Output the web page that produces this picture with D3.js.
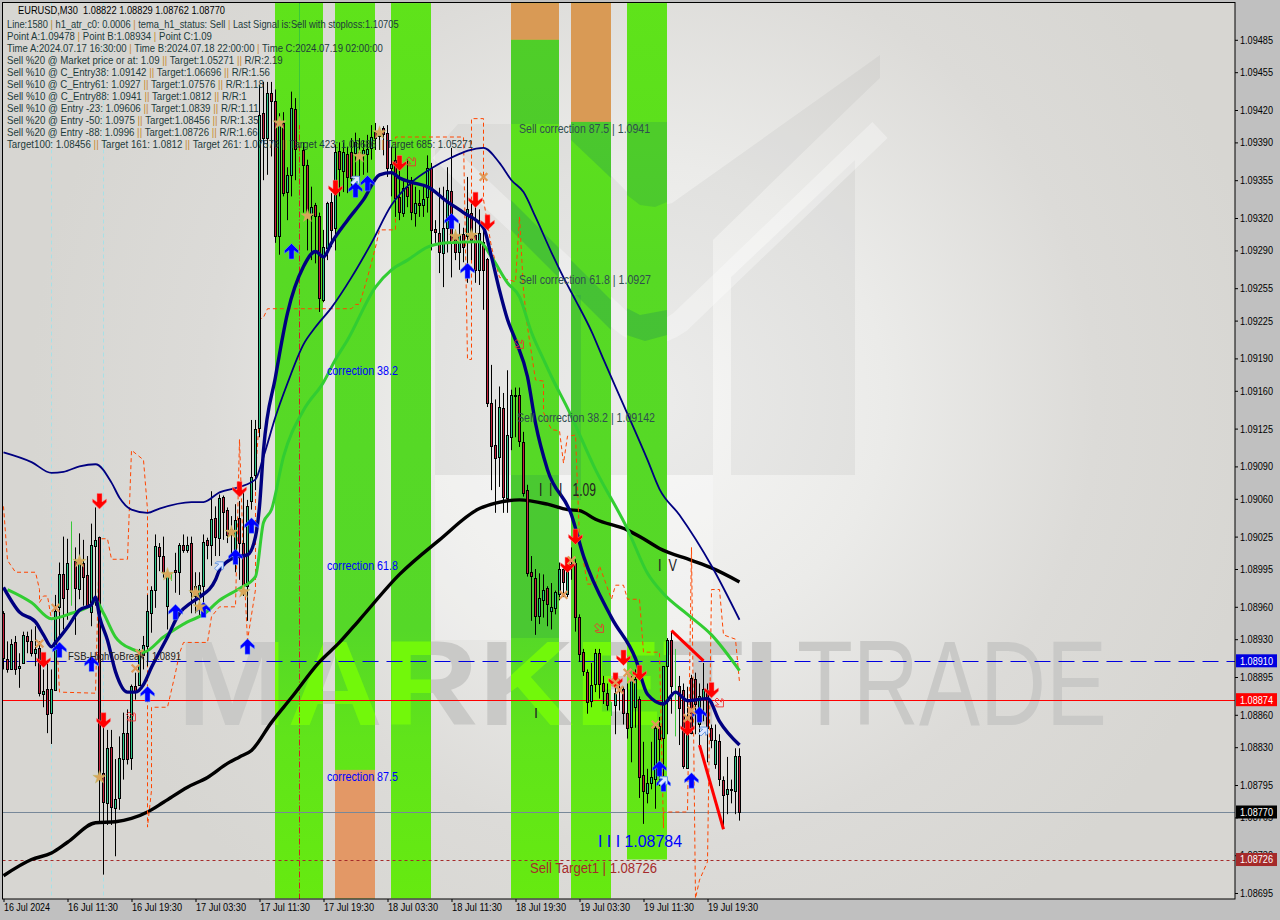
<!DOCTYPE html>
<html><head><meta charset="utf-8">
<script src="https://cdn.jsdelivr.net/npm/d3@7/dist/d3.min.js"></script>
<style>html,body{margin:0;padding:0;background:#c0c0c0}svg{display:block}text{font-family:"Liberation Sans",sans-serif}</style>
</head><body><svg id="c" width="1280" height="920"></svg>
<script>
// prices are stored as price x 100000
const opens=[108954,108912,108903,108927,108903,108908,108933,108928,108917,108922,
108879,108884,108862,108883,108959,108990,108977,109002,109002,108976,
109001,108989,108955,109016,109025,108806,108778,108830,108774,108783,
108819,108843,108820,108887,108887,108916,108924,108955,108975,109015,
109007,108960,108990,108994,108992,109017,109012,109019,108970,108970,
108979,109022,109017,109042,109024,109062,109050,109027,109010,109042,
109019,108979,109058,109082,109125,109417,109394,109436,109428,109303,
109408,109344,109360,109421,109410,109383,109369,109323,109332,109322,
109244,109292,109335,109311,109382,109363,109379,109381,109380,109380,
109379,109379,109385,109400,109396,109403,109399,109366,109374,109339,
109325,109349,109355,109325,109334,109332,109339,109366,109310,109306,
109288,109311,109345,109305,109288,109305,109303,109325,109304,109272,
109298,109282,109149,109110,109099,109144,109061,109117,109156,109156,
109113,109068,108992,108987,108951,108967,108977,108956,108959,108972,
108995,108972,109000,109001,108951,108918,108900,108873,108888,108917,
108889,108880,108870,108869,108885,108884,108862,108849,108867,108875,
108804,108788,108796,108801,108850,108838,108905,108929,108880,108887,
108883,108811,108894,108893,108851,108875,108883,108848,108815,108836,
108800,108786,108791,108790,108822];
const highs=[108956,108928,108930,108933,108917,108937,108937,108939,108942,108928,
108902,108908,108902,108971,109001,109025,109023,109039,109015,109028,
109022,109007,109037,109052,109025,108859,108846,108846,108819,108840,
108862,108865,108888,108899,108921,108933,108971,108979,109027,109019,
109025,108991,108992,109010,109019,109027,109025,109025,108992,108992,
109027,109024,109067,109053,109064,109063,109052,109044,109055,109058,
109066,109059,109133,109133,109443,109446,109446,109446,109439,109417,
109418,109367,109437,109431,109519,109390,109374,109349,109334,109325,
109309,109335,109343,109388,109390,109390,109386,109394,109399,109394,
109392,109397,109406,109408,109402,109405,109406,109386,109386,109377,
109355,109374,109358,109349,109346,109349,109378,109371,109318,109348,
109349,109367,109385,109309,109315,109311,109358,109334,109340,109328,
109309,109283,109184,109152,109164,109158,109179,109161,109163,109163,
109122,109073,109007,108995,108991,108990,108979,108982,108975,109001,
108998,109006,109015,109004,108953,108921,108902,108908,108921,108921,
108896,108889,108872,108893,108893,108886,108889,108896,108902,108877,
108835,108810,108835,108851,108858,108905,108931,108937,108921,108896,
108889,108886,108897,108899,108889,108908,108889,108851,108851,108842,
108803,108821,108800,108829,108829];
const lows=[108902,108899,108902,108897,108885,108908,108917,108914,108905,108877,
108867,108843,108833,108882,108933,108939,108948,108961,108934,108967,
108961,108958,108942,108961,108760,108712,108758,108758,108729,108772,
108800,108814,108809,108874,108887,108902,108905,108936,108959,108993,
108987,108939,108984,108973,108971,109010,109010,108954,108954,108951,
108964,109004,108998,109007,109007,109022,109019,109004,108992,108985,
108970,108947,109050,109068,109117,109355,109360,109377,109297,109286,
109340,109318,109340,109355,109406,109325,109290,109281,109278,109233,
109242,109281,109293,109290,109340,109344,109343,109346,109349,109355,
109360,109362,109374,109383,109383,109378,109358,109340,109321,109318,
109321,109330,109318,109312,109321,109321,109325,109290,109297,109269,
109256,109288,109265,109281,109272,109279,109260,109281,109260,109258,
109235,109145,109068,109047,109071,109047,109047,109105,109117,109108,
109062,108988,108947,108934,108944,108950,108942,108939,108953,108966,
108969,108969,108985,108937,108909,108896,108861,108867,108881,108875,
108870,108864,108859,108842,108864,108851,108838,108816,108848,108783,
108759,108778,108791,108773,108794,108794,108842,108861,108840,108832,
108810,108810,108842,108842,108832,108854,108816,108829,108810,108794,
108756,108768,108778,108768,108762];
const closes=[108912,108903,108926,108902,108905,108934,108928,108917,108921,108880,
108882,108861,108884,108956,108990,108968,109001,109002,108977,109004,
108988,108961,109017,109022,108806,108779,108829,108774,108782,108820,
108843,108819,108887,108882,108916,108925,108956,108976,109016,109007,
108992,108990,108990,108992,109017,109012,109017,108974,108979,108980,
109020,109017,109041,109024,109061,109048,109027,109032,109040,109019,
108979,109053,109080,109125,109415,109394,109436,109429,109303,109406,
109343,109360,109422,109384,109410,109369,109323,109330,109322,109246,
109293,109334,109309,109381,109365,109381,109358,109357,109390,109381,
109383,109384,109395,109394,109399,109397,109367,109370,109339,109325,
109348,109341,109325,109334,109332,109338,109366,109309,109307,109288,
109311,109346,109297,109288,109304,109293,109328,109300,109272,109306,
109272,109149,109109,109098,109145,109062,109119,109156,109155,109113,
109066,108991,108988,108952,108968,108976,108962,108960,108974,108995,
108983,109001,108998,108951,108917,108900,108872,108888,108917,108888,
108882,108869,108870,108880,108882,108862,108848,108893,108893,108803,
108789,108797,108802,108848,108838,108905,108929,108886,108880,108867,
108813,108843,108843,108870,108877,108884,108848,108837,108837,108801,
108786,108791,108790,108822,108770];

const blackIdx=[0,7,12,16,23,28,32,36,40,46,51,56,59,62,67,72,79,84,89,99,109,119,123,129,136,141,144,148,156,160,164,172,177,184];
const blackVal=[108711,108726,108732,108742,108760,108761,108764,108770,108779,108793,108802,108815,108821,108827,108853,108876,108909,108927,108948,108990,109022,109051,109056,109059,109055,109050,109049,109041,109031,109023,109014,109003,108996,108983];
const thinIdx=[0,7,12,15,19,23,27,29,32,36,39,47,50,54,59,63,65,68,71,75,78,82,87,92,97,102,107,112,120,124,127,130,133,137,140,143,147,150,155,161,164,169,177,184];
const thinVal=[109103,109094,109084,109085,109090,109092,109075,109061,109050,109047,109051,109057,109057,109066,109071,109078,109099,109136,109167,109203,109219,109237,109265,109297,109332,109353,109366,109376,109385,109371,109355,109344,109321,109288,109265,109244,109215,109189,109147,109096,109069,109045,108998,108948];
const greenIdx=[1,7,12,17,22,23,25,28,32,35,40,46,50,54,59,63,65,67,70,75,80,83,86,93,97,101,106,111,119,122,126,129,132,135,137,141,148,156,161,165,171,177,184];
const greenVal=[108976,108964,108949,108954,108962,108966,108954,108932,108921,108918,108932,108946,108953,108966,108977,108988,109038,109050,109099,109142,109168,109189,109207,109256,109272,109281,109293,109297,109298,109284,109260,109247,109214,109189,109173,109144,109087,109032,108991,108972,108953,108934,108901];
const navyIdx=[0,4,8,10,12,13,16,19,22,23,24,26,28,31,33,35,37,41,44,47,49,53,54,58,61,63,64,65,68,71,75,78,80,82,86,90,94,97,99,102,106,111,115,120,122,124,126,128,131,133,136,142,145,152,158,161,165,168,171,176,179,184];
const navyVal=[108978,108955,108946,108934,108923,108927,108941,108957,108962,108969,108951,108929,108900,108881,108881,108888,108904,108932,108954,108964,108969,108985,108994,109006,109008,109025,109053,109105,109173,109232,109275,109289,109284,109297,109318,109337,109360,109362,109357,109353,109349,109335,109325,109311,109284,109253,109226,109207,109173,109130,109087,109045,109007,108950,108912,108879,108870,108881,108873,108875,108854,108832];
const dashIdx=[0,1,3,8,9,9,10,11,12,13,14,23,24,26,27,31,32,35,36,36,37,37,41,43,44,45,51,52,54,58,59,60,61,63,63,64,64,65,66,87,88,89,91,93,94,98,98,115,116,117,117,120,120,122,124,128,129,130,131,133,135,135,137,139,140,141,143,144,146,148,149,152,153,155,156,159,160,164,165,165,171,172,173,174,176,177,179,180,183,184];
const dashVal=[109053,109003,108992,108992,108976,108964,108970,108970,108948,108954,108881,108880,109023,109023,109004,109004,109105,109096,109050,108756,108790,108867,108867,108899,108917,108927,108927,108951,108960,108960,109115,109003,108929,108976,109084,109136,109226,109228,109236,109236,109240,109240,109265,109293,109309,109309,109395,109395,109189,109189,109412,109412,109337,109293,109265,109261,109321,109253,109219,109170,109169,109140,109124,109123,109093,109118,109119,109023,108981,108981,108998,108967,108980,108980,108967,108967,108918,108918,108755,108770,108770,109015,108690,108707,108724,108976,108976,108934,108930,108890];
const wedgeIdx=[167,175], wedgeVal=[108938,108910];
const wedge2Idx=[174,180], wedge2Val=[108832,108754];

const blueUpIdx=[14,22,36,43,50,58,62,61,72,88,91,112,116,164,165,172,174];
const blueUpVal=[108920,108907,108879,108955,108957,109006,109035,108923,109289,109346,109352,109317,109271,108810,108796,108799,108860];
const redDownIdx=[24,10,25,59,83,99,118,121,143,141,155,153,159,171,177];
const redDownVal=[109058,108911,108855,109069,109348,109371,109337,109316,109025,108999,108913,108892,108899,108848,108883];
const starIdx=[19,41,48,49,57,60,24,69,76,89,94,113,117];
const starVal=[109002,108990,108973,108960,109029,108974,108802,109408,109322,109377,109399,109303,109304];
const crossIdx=[9,13,34,33,120,142,140,153,154,156,157,163,171,172];
const crossVal=[108926,108959,108917,108903,109358,109003,108971,108890,108883,108899,108893,108851,108857,108864];
const hollowRedIdx=[32,102,149,179,129];
const hollowRedVal=[108858,109372,108940,108871,109203];
const hollowBlueIdx=[54,88,165,175];
const hollowBlueVal=[108998,109355,108799,108845];

const zoneStart=[68,83,97,127,142,156];
const zoneBars=[12,10,10,12,10,10];
const zoneHigh=[109519,109519,109519,109519,109519,109519];
const zoneLow=[108690,108690,108690,108690,108690,108726];
const zoneOrangeHigh=[null,108809,null,109519,109519,null];
const zoneOrangeLow=[null,108690,null,109485,109409,null];

const priceTicks=[109485,109455,109420,109390,109355,109320,109290,109255,109225,109190,109160,109125,109090,109060,109025,108995,108960,108930,108895,108860,108830,108795,108765,108730,108695];
const timeTickIdx=[0,16,32,48,64,80,96,112,128,144,160,176];
const timeTickLabels=["16 Jul 2024","16 Jul 11:30","16 Jul 19:30","17 Jul 03:30","17 Jul 11:30","17 Jul 19:30","18 Jul 03:30","18 Jul 11:30","18 Jul 19:30","19 Jul 03:30","19 Jul 11:30","19 Jul 19:30"];
const levelVals=[108910,108874,108770,108726];
const levelColors=["#0000e0","#ff0000","#000000","#a52a2a"];
const lineColors=["#0000e0","#ff0000","#778899","#a52a2a"];
const lineDash=["16,8",null,null,"3,3"];

const panelLines=["Line:1580 | h1_atr_c0: 0.0006 | tema_h1_status: Sell | Last Signal is:Sell with stoploss:1.10705",
"Point A:1.09478 | Point B:1.08934 | Point C:1.09",
"Time A:2024.07.17 16:30:00 | Time B:2024.07.18 22:00:00 | Time C:2024.07.19 02:00:00",
"Sell %20 @ Market price or at: 1.09 || Target:1.05271 || R/R:2.19",
"Sell %10 @ C_Entry38: 1.09142 || Target:1.06696 || R/R:1.56",
"Sell %10 @ C_Entry61: 1.0927 || Target:1.07576 || R/R:1.18",
"Sell %10 @ C_Entry88: 1.0941 || Target:1.0812 || R/R:1",
"Sell %10 @ Entry -23: 1.09606 || Target:1.0839 || R/R:1.11",
"Sell %20 @ Entry -50: 1.0975 || Target:1.08456 || R/R:1.35",
"Sell %20 @ Entry -88: 1.0996 || Target:1.08726 || R/R:1.66",
"Target100: 1.08456 || Target 161: 1.0812 || Target 261: 1.07576 || Target 423: 1.06686 || Target 685: 1.05271"];
const panelEnds=[399,212,383,283,270,264,247,259,259,258,474];
const titleText="EURUSD,M30  1.08822 1.08829 1.08762 1.08770";

const svg=d3.select("#c");
const W=1235,H=899,L=2.5,T=2.5;
const x=d3.scaleLinear().domain([0,184]).range([3.5,739.5]);
const y=d3.scaleLinear().domain([108695,109485]).range([893,39.8]);
const pts=(a,b)=>a.map((d,i)=>[x(d),y(b[i])]);
const defs=svg.append("defs");
const bgGrad=defs.append("radialGradient").attr("id","bg").attr("gradientUnits","userSpaceOnUse").attr("cx",650).attr("cy",400).attr("r",620);
[[0,"#f6f6f5"],[.38,"#ebebe9"],[.72,"#dcdbd8"],[1,"#d7d6d2"]].forEach(s=>bgGrad.append("stop").attr("offset",s[0]).attr("stop-color",s[1]));
const gGrad=defs.append("linearGradient").attr("id","zg").attr("gradientUnits","userSpaceOnUse").attr("x1",0).attr("x2",0).attr("y1",0).attr("y2",900);
[[0,"#5fe31a"],[.14,"#5ce01c"],[.3,"#57da24"],[.7,"#55d828"],[.82,"#60e41a"],[1,"#66ea10"]].forEach(s=>gGrad.append("stop").attr("offset",s[0]).attr("stop-color",s[1]));
const clip=defs.append("clipPath").attr("id","zoneClip");
zoneStart.forEach((s,i)=>clip.append("rect").attr("x",x(s)-.5).attr("width",zoneBars[i]*4).attr("y",y(zoneHigh[i])).attr("height",y(zoneLow[i])-y(zoneHigh[i])));
defs.append("clipPath").attr("id","plot").append("rect").attr("x",L).attr("y",T).attr("width",W-L).attr("height",H-T);

const plot=svg.append("g").attr("clip-path","url(#plot)");
plot.append("rect").attr("x",L).attr("y",T).attr("width",W-L).attr("height",H-T).attr("fill","url(#bg)");
// background logo
const logo=plot.append("g");
const poly=(p,f,o)=>logo.append("polygon").attr("points",p.map(d=>d.join(",")).join(" ")).attr("fill",f).attr("opacity",o);
poly([[435,150],[458,124],[560,124],[640,205],[655,207],[672,203],[817,100],[880,55],[880,78],[857,100],[713,240],[713,475],[435,475]],"#000",.04);
poly([[731,277],[855,160],[855,475],[731,475]],"#000",.045);
logo.append("path").attr("d","M440,150 L620,320 Q648,345 680,322 L880,130").attr("fill","none").attr("stroke","#fff").attr("stroke-width",22).attr("opacity",.32);
logo.append("rect").attr("x",435).attr("y",475).attr("width",278).attr("height",165).attr("fill","#fff").attr("opacity",.25);
logo.append("text").attr("x",177).attr("y",725).attr("font-size",121).attr("font-weight",700).attr("textLength",603).attr("lengthAdjust","spacingAndGlyphs").attr("fill","#c9c9c7").text("MARKETI");
logo.append("text").attr("x",797).attr("y",725).attr("font-size",121).attr("textLength",310).attr("lengthAdjust","spacingAndGlyphs").attr("fill","#c9c9c7").text("TRADE");
// zones
zoneStart.forEach((s,i)=>{
  plot.append("rect").attr("x",x(s)-.5).attr("width",zoneBars[i]*4).attr("y",y(zoneHigh[i])).attr("height",y(zoneLow[i])-y(zoneHigh[i])).attr("fill","url(#zg)");
  if(zoneOrangeHigh[i]!==null) plot.append("rect").attr("x",x(s)-.5).attr("width",zoneBars[i]*4).attr("y",y(zoneOrangeHigh[i])).attr("height",y(zoneOrangeLow[i])-y(zoneOrangeHigh[i])).attr("fill",i==1?"#e39866":"#d99a55");
});
const zc=plot.append("g").attr("clip-path","url(#zoneClip)");
const zp=(p,f,o)=>zc.append("polygon").attr("points",p.map(d=>d.join(",")).join(" ")).attr("fill",f).attr("opacity",o);
zp([[511,40],[559,40],[559,124],[511,124]],"#2a9a50",.28);
zp([[571,122],[611,122],[611,178],[571,140]],"#2a9a50",.35);
zp([[627,122],[667,122],[667,202],[655,207],[640,205],[627,195]],"#2a9a50",.28);
zp([[511,200],[611,300],[640,315],[667,310],[667,335],[645,341],[611,330],[511,230]],"#2a9a50",.38);
zp([[571,295],[581,295],[581,500],[571,500]],"#2a9a50",.3);
zp([[511,475],[559,475],[559,638],[511,638]],"#2a9a50",.26);
zc.append("text").attr("x",177).attr("y",725).attr("font-size",121).attr("font-weight",700).attr("textLength",603).attr("lengthAdjust","spacingAndGlyphs").attr("fill","#72f80a").text("MARKETI");
// vertical markers
plot.selectAll(".sep").data([12,25]).join("line").attr("x1",d=>x(d)).attr("x2",d=>x(d)).attr("y1",T).attr("y2",H).attr("stroke","#a8e0e6").attr("stroke-dasharray","4,3");
plot.append("line").attr("x1",x(74)).attr("x2",x(74)).attr("y1",T).attr("y2",H).attr("stroke","#d02020").attr("stroke-dasharray","6,2,1,2");
// level lines
levelVals.forEach((v,i)=>{
  const yy=Math.round(y(v))+.5;
  plot.append("line").attr("x1",L).attr("x2",W).attr("y1",yy).attr("y2",yy).attr("stroke",lineColors[i]).attr("stroke-dasharray",lineDash[i]);
});
const lg=d3.line();
const ls=d3.line().curve(d3.curveMonotoneX);
// black average under candles
plot.append("path").attr("d",ls(pts(blackIdx,blackVal))).attr("fill","none").attr("stroke","#000").attr("stroke-width",3.4);
// orange dashed channel
plot.append("path").attr("d",lg(pts(dashIdx,dashVal))).attr("fill","none").attr("stroke","#ff4500").attr("stroke-width",1).attr("stroke-dasharray","4,3");
// candles
const bars=opens.map((o,i)=>({i,o,h:highs[i],l:lows[i],c:closes[i]}));
const cg=plot.append("g");
bars.forEach(b=>{
  const cx=x(b.i);
  if(b.o===b.c){
    cg.append("line").attr("x1",cx).attr("x2",cx).attr("y1",y(b.h)).attr("y2",y(b.l)).attr("stroke","#39c83a");
    return;
  }
  cg.append("line").attr("x1",cx).attr("x2",cx).attr("y1",y(b.h)).attr("y2",y(b.l)).attr("stroke","#000");
  const t=y(Math.max(b.o,b.c)),bt=y(Math.min(b.o,b.c));
  cg.append("rect").attr("x",cx-1).attr("width",2).attr("y",Math.round(t)+.5).attr("height",Math.max(1,Math.round(bt-t)))
    .attr("fill",b.c>b.o?"#2fc88a":"#c2203c").attr("stroke","#000");
});
// averages
plot.append("path").attr("d",ls(pts(greenIdx,greenVal))).attr("fill","none").attr("stroke","#32cd32").attr("stroke-width",3);
plot.append("path").attr("d",ls(pts(thinIdx,thinVal))).attr("fill","none").attr("stroke","#000080").attr("stroke-width",1.8);
plot.append("path").attr("d",ls(pts(navyIdx,navyVal))).attr("fill","none").attr("stroke","#000080").attr("stroke-width",3.4);
plot.append("path").attr("d",lg(pts(wedgeIdx,wedgeVal))).attr("fill","none").attr("stroke","#ff0000").attr("stroke-width",3);
plot.append("path").attr("d",lg(pts(wedge2Idx,wedge2Val))).attr("fill","none").attr("stroke","#ff0000").attr("stroke-width",3);
// markers
const arrowUp="M0,-8L7,-1L7,2L2.5,-1L2.5,7.5L-2.5,7.5L-2.5,-1L-7,2L-7,-1Z";
blueUpIdx.forEach((d,i)=>plot.append("path").attr("d",arrowUp).attr("transform",`translate(${x(d)},${y(blueUpVal[i])})`).attr("fill","#0000ff").attr("stroke","#6a9cff").attr("stroke-width",.5));
redDownIdx.forEach((d,i)=>plot.append("path").attr("d",arrowUp).attr("transform",`translate(${x(d)},${y(redDownVal[i])}) scale(1,-1)`).attr("fill","#ff0000").attr("stroke","#ff8080").attr("stroke-width",.5));
const star=d3.symbol().type(d3.symbolStar).size(55)();
starIdx.forEach((d,i)=>plot.append("path").attr("d",star).attr("transform",`translate(${x(d)},${y(starVal[i])})`).attr("fill","#d9a55a").attr("stroke","#b9c060").attr("stroke-width",.4));
const times=d3.symbol().type(d3.symbolTimes).size(40)();
crossIdx.forEach((d,i)=>plot.append("path").attr("d",times).attr("transform",`translate(${x(d)},${y(crossVal[i])})`).attr("fill","none").attr("stroke","#e09a58").attr("stroke-width",2.2));
hollowRedIdx.forEach((d,i)=>plot.append("path").attr("d",arrowUp).attr("transform",`translate(${x(d)},${y(hollowRedVal[i])}) rotate(135) scale(.7)`).attr("fill","none").attr("stroke","#f03030").attr("stroke-width",1.2));
hollowBlueIdx.forEach((d,i)=>plot.append("path").attr("d",arrowUp).attr("transform",`translate(${x(d)},${y(hollowBlueVal[i])}) rotate(45) scale(.7)`).attr("fill","#dfe8ff").attr("stroke","#5a90e0").attr("stroke-width",1.2));
// chart labels
const label=(t,px,py,fs,col,len)=>plot.append("text").attr("x",px).attr("y",py).attr("dy",".35em").attr("font-size",fs).attr("fill",col).attr("xml:space","preserve").attr("textLength",len).attr("lengthAdjust","spacingAndGlyphs").text(t);
label("Sell correction 87.5 | 1.0941",519,129,12,"#2f4f4f",131);
label("Sell correction 61.8 | 1.0927",519,280,12,"#2f4f4f",132);
label("Sell correction 38.2 | 1.09142",517,418,12,"#2f4f4f",138);
label("correction 38.2",327,371,12,"#0000ff",71);
label("correction 61.8",327,566,12,"#0000ff",71);
label("correction 87.5",327,777,12,"#0000ff",71);
label("I  I  I   1.09",539,490,18,"#222",57);
label("I  V",658,565,17,"#222",19);
label("I",534,713,14,"#222",4);
label("I I I 1.08784",598,841,17,"#0000ff",84);
label("Sell Target1 | 1.08726",530,868,14,"#a52a2a",127);
label("FSB-HighToBreak | 1.0891",68,656,11,"#222",113);
// panel
plot.append("text").attr("x",18).attr("y",10.5).attr("dy",".35em").attr("font-size",11).attr("fill","#000").attr("xml:space","preserve").attr("textLength",207).attr("lengthAdjust","spacingAndGlyphs").text(titleText);
panelLines.forEach((ln,i)=>{
  const yy=23.7+12*i;
  const t=plot.append("text").attr("y",0).attr("dy",".35em").attr("font-size",11).attr("fill","#1d3b3b").attr("xml:space","preserve");
  ln.split(/(\|+)/).forEach(p=>t.append("tspan").attr("fill",p[0]==="|"?"#c8892f":null).text(p));
  const w=t.node().getComputedTextLength();
  t.attr("transform",`translate(7,${yy}) scale(${(panelEnds[i]-7)/w},1)`);
});
// frame & axes
svg.append("rect").attr("x",L).attr("y",T).attr("width",W-L).attr("height",H-T).attr("fill","none").attr("stroke","#000");
const ax=svg.append("g").attr("transform",`translate(${W},0)`).call(d3.axisRight(y).tickValues(priceTicks).tickSize(3).tickPadding(2).tickFormat(d=>(d/1e5).toFixed(5)));
ax.select(".domain").remove();
ax.selectAll("text").attr("font-size",11).attr("fill","#000").attr("textLength",33).attr("lengthAdjust","spacingAndGlyphs");
ax.selectAll("line").attr("stroke","#000");
const bx=svg.append("g").attr("transform",`translate(0,${H})`).call(d3.axisBottom(x).tickValues(timeTickIdx).tickSize(3).tickPadding(1).tickFormat((d,i)=>timeTickLabels[i]));
bx.select(".domain").remove();
bx.selectAll("text").attr("font-size",11).attr("fill","#000").attr("text-anchor","start").attr("textLength",(d,i)=>i===0?46:50).attr("lengthAdjust","spacingAndGlyphs");
bx.selectAll("line").attr("stroke","#000");
// level tags
levelVals.forEach((v,i)=>{
  const yy=y(v);
  svg.append("rect").attr("x",1236).attr("y",yy-6.5).attr("width",41).attr("height",13).attr("fill",levelColors[i]);
  svg.append("text").attr("x",1240).attr("y",yy).attr("dy",".35em").attr("font-size",11).attr("fill","#fff").attr("textLength",33).attr("lengthAdjust","spacingAndGlyphs").text((v/1e5).toFixed(5));
});
</script></body></html>
